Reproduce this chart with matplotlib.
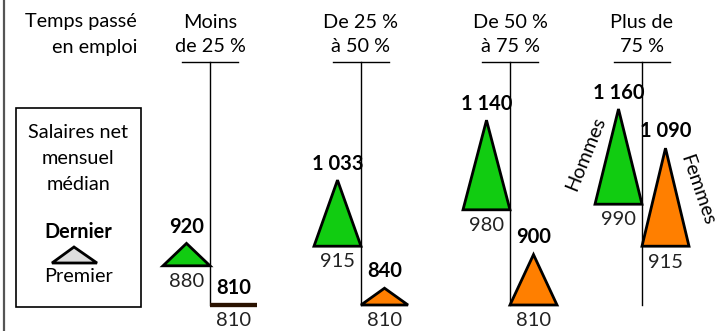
import matplotlib
matplotlib.use("Agg")
import matplotlib.pyplot as plt
from matplotlib.patches import Polygon, Rectangle
from matplotlib.lines import Line2D

# ---- data ----
categories = ["Moins\nde 25 %", "De 25 %\nà 50 %", "De 50 %\nà 75 %", "Plus de\n75 %"]
hommes_premier = [880, 915, 980, 990]
hommes_dernier = [920, 1033, 1140, 1160]
femmes_premier = [810, 810, 810, 915]
femmes_dernier = [810, 840, 900, 1090]

# ---- layout ----
W, H = 718, 331
FONT = "Lato"
FS = 14.3
NFS = 14.5
plt.rcParams['font.family'] = [FONT, 'DejaVu Sans']

fig = plt.figure(figsize=(W / 100, H / 100), dpi=100)
fig.patch.set_facecolor("white")

# value axis: pixel y = 305 - 0.56*(v-810)
scale = 0.56
base_v, base_px = 810, 305
ymin = base_v - (H - base_px) / scale
ymax = base_v + base_px / scale

ax = fig.add_axes([0, 0, 1, 1])
ax.set_xlim(0, W)
ax.set_ylim(ymin, ymax)
ax.axis("off")


def fx(x):
    return x / W


def fy(y):
    return 1 - y / H


def v_of_px(py):
    return base_v + (base_px - py) / scale


GREEN = "#11cc11"
ORANGE = "#ff7f00"
centers = [210, 361, 510, 642]
tw = 47  # triangle width in px


def fmt(v):
    return f"{v:,}".replace(",", " ")


# left border line
fig.add_artist(Line2D([fx(4), fx(4)], [0, 1], color="#555555", lw=1.6))

# header left
fig.text(fx(137), fy(22), "Temps passé", ha="right", va="center", fontsize=FS)
fig.text(fx(137), fy(47), "en emploi", ha="right", va="center", fontsize=FS)

for i, cx in enumerate(centers):
    l1, l2 = categories[i].split("\n")
    fig.text(fx(cx), fy(22), l1, ha="center", va="center", fontsize=FS)
    fig.text(fx(cx), fy(47), l2, ha="center", va="center", fontsize=FS)
    # T lines
    ax.plot([cx - 28, cx + 28], [v_of_px(62)] * 2, color="black", lw=1.0)
    ax.plot([cx, cx], [v_of_px(62), v_of_px(305)], color="black", lw=1.0)

    # Hommes triangle (left)
    p, d = hommes_premier[i], hommes_dernier[i]
    tri = Polygon([[cx - tw, p], [cx, p], [cx - tw / 2, d]], closed=True,
                  facecolor=GREEN, edgecolor="black", lw=2.0, joinstyle="miter", zorder=3)
    ax.add_patch(tri)
    ax.annotate(fmt(d), (cx - tw / 2, d), xytext=(0, 11.5),
                textcoords="offset points", ha="center", va="center",
                fontsize=NFS, fontweight="bold")
    ax.annotate(fmt(p), (cx - tw / 2, p), xytext=(0, -11),
                textcoords="offset points", ha="center", va="center",
                fontsize=NFS, color="#222222")

    # Femmes triangle (right)
    p, d = femmes_premier[i], femmes_dernier[i]
    tri = Polygon([[cx, p], [cx + tw, p], [cx + tw / 2, d]], closed=True,
                  facecolor=ORANGE, edgecolor="black", lw=2.0, joinstyle="miter", zorder=3)
    if p == d:
        tri.set_linewidth(3.0)
        tri.set_edgecolor("#2a1200")
    ax.add_patch(tri)
    ax.annotate(fmt(d), (cx + tw / 2, d), xytext=(0, 12.5),
                textcoords="offset points", ha="center", va="center",
                fontsize=NFS, fontweight="bold")
    ax.annotate(fmt(p), (cx + tw / 2, p), xytext=(0, -11.5),
                textcoords="offset points", ha="center", va="center",
                fontsize=NFS, color="#222222")

# Hommes / Femmes labels
fig.text(fx(586), fy(154), "Hommes", ha="center", va="center", rotation=68,
         rotation_mode="anchor", fontsize=FS)
fig.text(fx(697), fy(190), "Femmes", ha="center", va="center", rotation=-71,
         rotation_mode="anchor", fontsize=FS)

# legend box
fig.add_artist(Rectangle((fx(16), fy(307)), fx(141) - fx(16), fy(108) - fy(307),
                         transform=fig.transFigure, fill=False, edgecolor="black", lw=1.2))
lx = 78
fig.text(fx(lx), fy(133), "Salaires net", ha="center", va="center", fontsize=FS)
fig.text(fx(lx), fy(159), "mensuel", ha="center", va="center", fontsize=FS)
fig.text(fx(lx), fy(185), "médian", ha="center", va="center", fontsize=FS)
fig.text(fx(lx), fy(232), "Dernier", ha="center", va="center", fontsize=FS, fontweight="bold")
fig.add_artist(Polygon([[fx(52), fy(263)], [fx(97), fy(263)], [fx(74), fy(247)]],
                       closed=True, transform=fig.transFigure, facecolor="#dddddd",
                       edgecolor="black", lw=2.0, joinstyle="miter"))
fig.text(fx(lx), fy(277), "Premier", ha="center", va="center", fontsize=FS)

fig.savefig("out.png", dpi=100, facecolor="white")
